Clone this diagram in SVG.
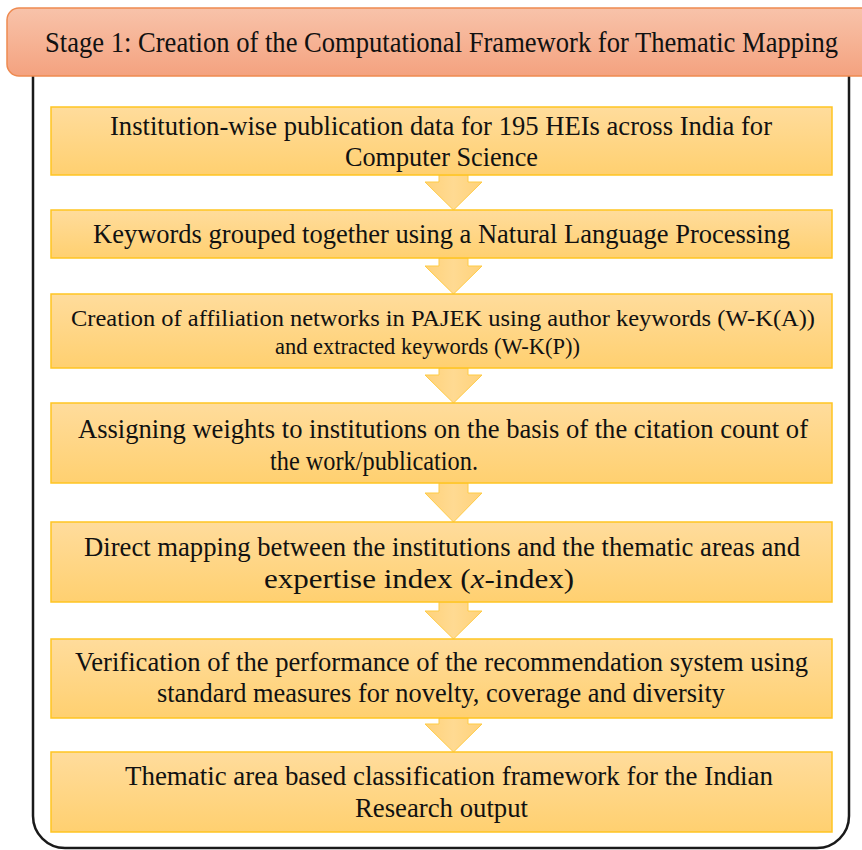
<svg xmlns="http://www.w3.org/2000/svg" width="862" height="850" viewBox="0 0 862 850" font-family="'Liberation Serif', 'Times New Roman', serif">
  <defs>
    <linearGradient id="hdrGrad" x1="0" y1="0" x2="0" y2="1">
      <stop offset="0" stop-color="#F8C3AA"/>
      <stop offset="1" stop-color="#F4A27F"/>
    </linearGradient>
    <linearGradient id="boxGrad" x1="0" y1="0" x2="0" y2="1">
      <stop offset="0" stop-color="#FFDC9C"/>
      <stop offset="1" stop-color="#FFD070"/>
    </linearGradient>
    <linearGradient id="arrGrad" x1="0" y1="0" x2="1" y2="0">
      <stop offset="0" stop-color="#FFD27A"/>
      <stop offset="0.5" stop-color="#FFDA92"/>
      <stop offset="1" stop-color="#FFD27A"/>
    </linearGradient>
    <style>
      .hdr { fill: url(#hdrGrad); stroke: #EE8A50; stroke-width: 1.5; }
      .box { fill: url(#boxGrad); stroke: #FFC522; stroke-width: 1.5; }
      .arr { fill: url(#arrGrad); stroke: #FFCB45; stroke-width: 1; stroke-linejoin: miter; }
      .frame { fill: none; stroke: #1a1a1a; stroke-width: 2.5; }
      .t, .ts, .th { fill: #111; text-anchor: middle; }
      .t { font-size: 27px; }
      .ts { font-size: 23px; }
      .th { font-size: 29px; }
    </style>
  </defs>

  <g id="frame">
    <path class="frame" d="M33,76 L33,816 A32,32 0 0 0 65,848 L817,848 A32,32 0 0 0 849,816 L849,76"/>
  </g>

  <g id="header" font-family="Liberation Serif">
    <rect class="hdr" x="7" y="8" width="880" height="68" rx="12" ry="12"/>
    <text class="th" x="441.5" y="52" textLength="793" lengthAdjust="spacingAndGlyphs">Stage 1: Creation of the Computational Framework for Thematic Mapping</text>
  </g>

  <g id="connectors">
    <polygon class="arr" points="439,175 468,175 468,182 482,182 453.5,210 425,182 439,182"/>
    <polygon class="arr" points="439,258 468,258 468,266 482,266 453.5,294 425,266 439,266"/>
    <polygon class="arr" points="439,368 468,368 468,375 482,375 453.5,403 425,375 439,375"/>
    <polygon class="arr" points="439,483 468,483 468,493 482,493 453.5,522 425,493 439,493"/>
    <polygon class="arr" points="439,602 468,602 468,611 482,611 453.5,639 425,611 439,611"/>
    <polygon class="arr" points="439,718 468,718 468,724 482,724 453.5,752 425,724 439,724"/>
  </g>

  <g id="node1" font-family="Liberation Serif">
    <rect class="box" x="51" y="107" width="781" height="68"/>
    <text class="t" x="441" y="135" textLength="662" lengthAdjust="spacingAndGlyphs">Institution-wise publication data for 195 HEIs across India for</text>
    <text class="t" x="441.5" y="166" textLength="193" lengthAdjust="spacingAndGlyphs">Computer Science</text>
  </g>

  <g id="node2" font-family="Liberation Serif">
    <rect class="box" x="51" y="210" width="781" height="48"/>
    <text class="t" x="441.5" y="243" textLength="697" lengthAdjust="spacingAndGlyphs">Keywords grouped together using a Natural Language Processing</text>
  </g>

  <g id="node3" font-family="Liberation Serif">
    <rect class="box" x="51" y="294" width="781" height="74"/>
    <text class="ts" x="443" y="326" textLength="744" lengthAdjust="spacingAndGlyphs">Creation of affiliation networks in PAJEK using author keywords (W-K(A))</text>
    <text class="ts" x="427.5" y="354" textLength="305" lengthAdjust="spacingAndGlyphs">and extracted keywords (W-K(P))</text>
  </g>

  <g id="node4" font-family="Liberation Serif">
    <rect class="box" x="51" y="403" width="781" height="80"/>
    <text class="t" x="443" y="438" textLength="730" lengthAdjust="spacingAndGlyphs">Assigning weights to institutions on the basis of the citation count of</text>
    <text class="t" x="374" y="470" textLength="208" lengthAdjust="spacingAndGlyphs">the work/publication.</text>
  </g>

  <g id="node5" font-family="Liberation Serif">
    <rect class="box" x="51" y="522" width="781" height="80"/>
    <text class="t" x="442" y="556" textLength="716" lengthAdjust="spacingAndGlyphs">Direct mapping between the institutions and the thematic areas and</text>
    <text class="t" x="419" y="588" textLength="310" lengthAdjust="spacingAndGlyphs">expertise index (<tspan font-style="italic">x</tspan>-index)</text>
  </g>

  <g id="node6" font-family="Liberation Serif">
    <rect class="box" x="51" y="639" width="781" height="79"/>
    <text class="t" x="441.5" y="671" textLength="733" lengthAdjust="spacingAndGlyphs">Verification  of the performance of the recommendation system using</text>
    <text class="t" x="441" y="702" textLength="568" lengthAdjust="spacingAndGlyphs">standard measures for novelty, coverage and diversity</text>
  </g>

  <g id="node7" font-family="Liberation Serif">
    <rect class="box" x="51" y="752" width="781" height="80"/>
    <text class="t" x="449" y="785" textLength="648" lengthAdjust="spacingAndGlyphs">Thematic area based classification  framework for the Indian</text>
    <text class="t" x="441.5" y="817" textLength="173" lengthAdjust="spacingAndGlyphs">Research output</text>
  </g>
</svg>
